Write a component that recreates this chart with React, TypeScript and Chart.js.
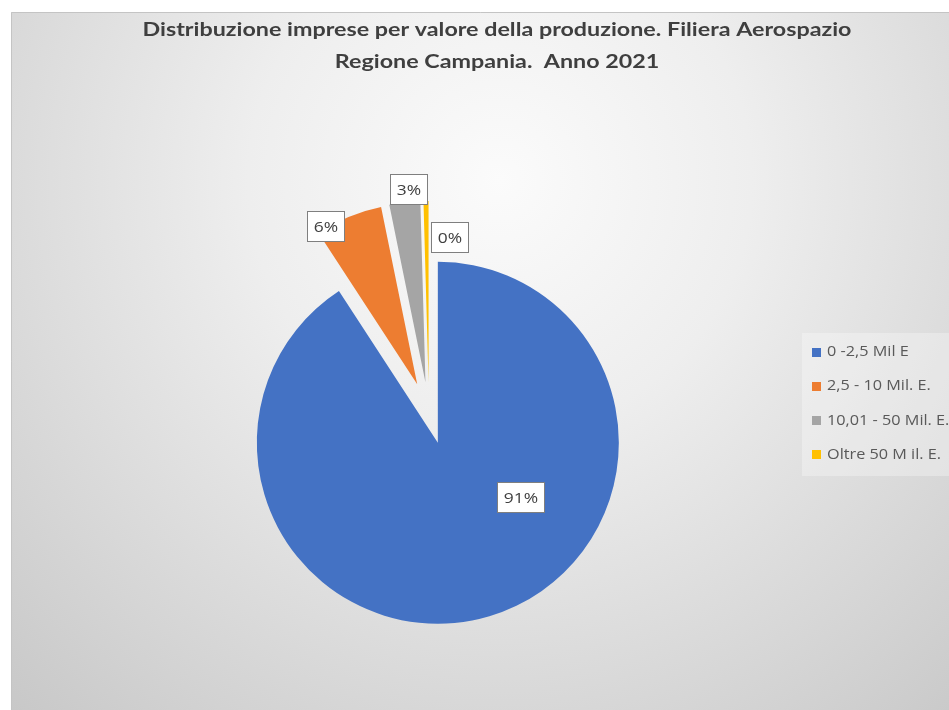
import React, { useEffect, useRef } from "react";
import { Chart, registerables } from "chart.js";

Chart.register(...registerables);

const TITLE_LINES = [
  "Distribuzione imprese per valore della produzione. Filiera Aerospazio",
  "Regione Campania.  Anno 2021",
];
const CATEGORIES = ["0 -2,5 Mil E", "2,5 - 10 Mil. E.", "10,01 - 50 Mil. E.", "Oltre 50 M il. E."];
const SHARES = [90.8, 6.0, 2.75, 0.45];
const COLORS = ["#4472C4", "#ED7D31", "#A5A5A5", "#FFC000"];
const EXPLODE = [31, 31, 31, 31];
const LABEL_ANGLE_SHIFT = [-40.2, -7.9, 1.6, 9.1];
const LABEL_RADIUS = [0.544, 1.01, 1.071, 0.81];

const W = 949;
const H = 710;
const TITLE_WIDTH = 709;

const backgroundPlugin = {
  id: "bgPlugin",
  beforeDraw(chart: any) {
    const ctx = chart.ctx;
    ctx.save();
    ctx.fillStyle = "#ffffff";
    ctx.fillRect(0, 0, chart.width, chart.height);
    const g = ctx.createRadialGradient(500, 180, 0, 500, 180, 720);
    g.addColorStop(0, "#fbfbfb");
    g.addColorStop(0.35, "#eeeeee");
    g.addColorStop(1, "#c8c8c8");
    ctx.fillStyle = g;
    ctx.fillRect(11, 12, chart.width - 11, chart.height - 12);
    ctx.strokeStyle = "#c4c4c4";
    ctx.lineWidth = 1;
    ctx.beginPath();
    ctx.moveTo(11.5, chart.height);
    ctx.lineTo(11.5, 12.5);
    ctx.lineTo(chart.width, 12.5);
    ctx.stroke();
    ctx.fillStyle = "rgba(255,255,255,0.3)";
    ctx.fillRect(802, 333, chart.width - 802, 143);
    ctx.restore();
  },
};

const explodePlugin = {
  id: "explodePlugin",
  afterDatasetsUpdate(chart: any) {
    const meta = chart.getDatasetMeta(0);
    meta.data.forEach((arc: any, i: number) => {
      const d = EXPLODE[i] || 0;
      if (!d) return;
      const mid = (arc.startAngle + arc.endAngle) / 2;
      arc.x += Math.cos(mid) * d;
      arc.y += Math.sin(mid) * d;
    });
  },
};

function stretchedText(ctx: CanvasRenderingContext2D, txt: string, x: number, y: number, sx: number) {
  ctx.save();
  ctx.translate(x, y);
  ctx.scale(sx, 1);
  ctx.fillText(txt, 0, 0);
  ctx.restore();
}

const textPlugin = {
  id: "textPlugin",
  afterDraw(chart: any) {
    const ctx = chart.ctx;
    ctx.save();
    // title
    ctx.fillStyle = "#3f3f3f";
    ctx.font = "bold 18px Lato";
    ctx.textAlign = "center";
    ctx.textBaseline = "middle";
    const tsx = TITLE_WIDTH / ctx.measureText(TITLE_LINES[0]).width;
    TITLE_LINES.forEach((line, i) => stretchedText(ctx, line, 497, 30 + i * 32, tsx));

    // data labels
    const SX = 1.16;
    const meta = chart.getDatasetMeta(0);
    const data = chart.data.datasets[0].data as number[];
    const total = data.reduce((a, b) => a + b, 0);
    ctx.font = "15px 'Open Sans'";
    meta.data.forEach((arc: any, i: number) => {
      const mid = (arc.startAngle + arc.endAngle) / 2 + (LABEL_ANGLE_SHIFT[i] * Math.PI) / 180;
      const r = arc.outerRadius * LABEL_RADIUS[i];
      const x = arc.x + Math.cos(mid) * r;
      const y = arc.y + Math.sin(mid) * r;
      const txt = Math.round((data[i] / total) * 100) + "%";
      const tw = ctx.measureText(txt).width * SX;
      const bw = Math.round(tw + 13);
      const bh = 30;
      const bx = Math.round(x - bw / 2) + 0.5;
      const by = Math.round(y - bh / 2) + 0.5;
      ctx.fillStyle = "#ffffff";
      ctx.fillRect(bx, by, bw, bh);
      ctx.strokeStyle = "#7f7f7f";
      ctx.lineWidth = 1;
      ctx.strokeRect(bx, by, bw, bh);
      ctx.fillStyle = "#404040";
      ctx.textAlign = "center";
      ctx.textBaseline = "middle";
      stretchedText(ctx, txt, bx + bw / 2, by + bh / 2 + 1, SX);
    });

    // legend
    const labels = chart.data.labels as string[];
    const colors = chart.data.datasets[0].backgroundColor as string[];
    ctx.font = "14px 'Open Sans'";
    ctx.textAlign = "left";
    ctx.textBaseline = "middle";
    labels.forEach((lab, i) => {
      const y = 352 + i * 34.3;
      ctx.fillStyle = colors[i];
      ctx.fillRect(812, Math.round(y - 4.5), 9, 9);
      ctx.fillStyle = "#595959";
      stretchedText(ctx, lab, 827, y, SX);
    });
    ctx.restore();
  },
};

export default function App() {
  const ref = useRef<HTMLCanvasElement | null>(null);
  useEffect(() => {
    if (!ref.current) return;
    const chart = new Chart(ref.current, {
      type: "pie",
      data: {
        labels: CATEGORIES,
        datasets: [
          {
            data: SHARES,
            backgroundColor: COLORS,
            borderWidth: 0,
            radius: 181,
          } as any,
        ],
      },
      options: {
        animation: false,
        responsive: true,
        maintainAspectRatio: false,
        events: [],
        layout: { padding: { top: 116, bottom: 0, left: 0, right: 91 } },
        plugins: {
          legend: { display: false },
          title: { display: false },
          tooltip: { enabled: false },
        },
      },
      plugins: [backgroundPlugin, explodePlugin, textPlugin],
    });
    return () => chart.destroy();
  }, []);
  return (
    <div style={{ position: "fixed", left: 0, top: 0, width: W, height: H, overflow: "hidden" }}>
      <canvas ref={ref} />
    </div>
  );
}
